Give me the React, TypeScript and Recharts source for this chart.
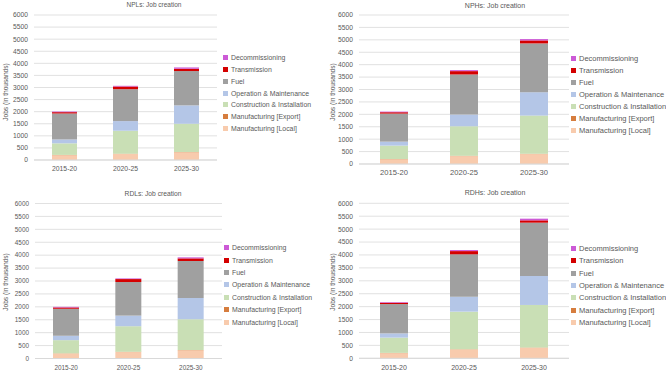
import React from "react";
import { BarChart, Bar, XAxis, YAxis, CartesianGrid, Legend } from "recharts";

const categories = ["2015-20", "2020-25", "2025-30"];
const yTicks = [0, 500, 1000, 1500, 2000, 2500, 3000, 3500, 4000, 4500, 5000, 5500, 6000];

// stacking order bottom -> top
const seriesKeys = ["local", "export", "construction", "om", "fuel", "transmission", "decommissioning"];
const seriesNames = [
  "Manufacturing [Local]",
  "Manufacturing [Export]",
  "Construction & Installation",
  "Operation & Maintenance",
  "Fuel",
  "Transmission",
  "Decommissioning",
];
const seriesColors = ["#F8CBAD", "#D67D3E", "#C9DFB5", "#B4C6E7", "#A0A0A0", "#D40000", "#CC5AD6"];

// NPLs
const nplsLocal = [200, 250, 320];
const nplsExport = [10, 10, 10];
const nplsConstruction = [480, 950, 1170];
const nplsOM = [160, 400, 760];
const nplsFuel = [1075, 1320, 1420];
const nplsTransmission = [55, 110, 95];
const nplsDecommissioning = [25, 30, 55];

// NPHs
const nphsLocal = [190, 320, 400];
const nphsExport = [10, 10, 10];
const nphsConstruction = [540, 1190, 1540];
const nphsOM = [160, 470, 940];
const nphsFuel = [1130, 1615, 1965];
const nphsTransmission = [55, 135, 120];
const nphsDecommissioning = [25, 40, 55];

// RDLs
const rdlsLocal = [190, 250, 320];
const rdlsExport = [10, 10, 10];
const rdlsConstruction = [510, 990, 1190];
const rdlsOM = [170, 410, 825];
const rdlsFuel = [1045, 1300, 1430];
const rdlsTransmission = [50, 115, 100];
const rdlsDecommissioning = [25, 25, 40];

// RDHs
const rdhsLocal = [200, 340, 410];
const rdhsExport = [10, 10, 10];
const rdhsConstruction = [590, 1455, 1645];
const rdhsOM = [165, 580, 1120];
const rdhsFuel = [1135, 1640, 2065];
const rdhsTransmission = [50, 125, 90];
const rdhsDecommissioning = [25, 40, 65];

const buildRows = (series: number[][]) =>
  categories.map((period, i) => {
    const row: Record<string, any> = { period };
    series.forEach((values, s) => {
      row[seriesKeys[s]] = values[i];
    });
    return row;
  });

const TEXT = "#595959";

// top of the stack first, like the Excel legend
const LegendList = ({ payload, fontSize, rowHeight }: any) => {
  const items = [...(payload || [])].sort(
    (a: any, b: any) => seriesNames.indexOf(b.value) - seriesNames.indexOf(a.value)
  );
  return (
    <div>
      {items.map((p: any) => (
        <div
          key={p.value}
          style={{ display: "flex", alignItems: "center", height: rowHeight, whiteSpace: "nowrap" }}
        >
          <span style={{ width: 5, height: 5, background: p.color, marginRight: 3, flex: "none" }} />
          <span style={{ fontSize, color: TEXT }}>{p.value}</span>
        </div>
      ))}
    </div>
  );
};

interface PanelProps {
  title: string;
  series: number[][];
  left: number;
  top: number;
  width: number;
  height: number;
  margin: { top: number; right: number; bottom: number; left: number };
  yAxisWidth: number;
  xAxisHeight: number;
  barSize: number;
  tickFont: number;
  catFont: number;
  catMargin: number;
  titleFont: number;
  titleX: number;
  titleY: number;
  yTitleX: number;
  yTitleY: number;
  legendX: number;
  legendY: number;
  legendRow: number;
  legendFont: number;
}

const Panel: React.FC<PanelProps> = (p) => {
  const rows = buildRows(p.series);
  return (
    <div style={{ position: "absolute", left: p.left, top: p.top, width: p.width, height: p.height }}>
      <div
        style={{
          position: "absolute",
          left: p.titleX - 60,
          top: p.titleY,
          width: 120,
          textAlign: "center",
          fontSize: p.titleFont,
          color: TEXT,
          lineHeight: 1,
          whiteSpace: "nowrap",
        }}
      >
        {p.title}
      </div>
      <div
        style={{
          position: "absolute",
          left: p.yTitleX - 40,
          top: p.yTitleY - 5,
          width: 80,
          height: 10,
          lineHeight: "10px",
          textAlign: "center",
          fontSize: 6.6,
          color: TEXT,
          whiteSpace: "nowrap",
          transform: "rotate(-90deg)",
        }}
      >
        Jobs (in thousands)
      </div>
      <BarChart width={p.width} height={p.height} data={rows} margin={p.margin} barSize={p.barSize}>
        <CartesianGrid vertical={false} stroke="#D9D9D9" strokeWidth={0.8} />
        <XAxis
          dataKey="period"
          height={p.xAxisHeight}
          tickLine={false}
          tickSize={0}
          tickMargin={p.catMargin}
          axisLine={{ stroke: "#D9D9D9" }}
          tick={{ fill: TEXT, fontSize: p.catFont }}
          interval={0}
        />
        <YAxis
          width={p.yAxisWidth}
          domain={[0, 6000]}
          ticks={yTicks}
          interval={0}
          axisLine={false}
          tickLine={false}
          tickSize={0}
          tickMargin={6}
          tick={{ fill: TEXT, fontSize: p.tickFont }}
        />
        <Legend
          layout="vertical"
          align="center"
          verticalAlign="middle"
          wrapperStyle={{ left: p.legendX, top: p.legendY - p.legendRow / 2, width: 130, height: "auto" }}
          content={(props: any) => (
            <LegendList payload={props.payload} fontSize={p.legendFont} rowHeight={p.legendRow} />
          )}
        />
        {seriesKeys.map((key, i) => (
          <Bar
            key={key}
            dataKey={key}
            name={seriesNames[i]}
            stackId="jobs"
            fill={seriesColors[i]}
            legendType="square"
            isAnimationActive={false}
          />
        ))}
      </BarChart>
    </div>
  );
};

export default function App() {
  return (
    <div
      style={{
        position: "absolute",
        left: 0,
        top: 0,
        width: 666,
        height: 371,
        background: "#fff",
        fontFamily: "'Liberation Sans', Arial, sans-serif",
      }}
    >
      <Panel
        title="NPLs: Job creation"
        series={[nplsLocal, nplsExport, nplsConstruction, nplsOM, nplsFuel, nplsTransmission, nplsDecommissioning]}
        left={0}
        top={0}
        width={333}
        height={185}
        margin={{ top: 15, right: 116, bottom: 5, left: 0 }}
        yAxisWidth={34}
        xAxisHeight={20}
        barSize={25}
        tickFont={6.7}
        catFont={6.8}
        catMargin={6}
        titleFont={6.5}
        titleX={154}
        titleY={2}
        yTitleX={6}
        yTitleY={92}
        legendX={223}
        legendY={58}
        legendRow={11.7}
        legendFont={6.9}
      />
      <Panel
        title="NPHs: Job creation"
        series={[nphsLocal, nphsExport, nphsConstruction, nphsOM, nphsFuel, nphsTransmission, nphsDecommissioning]}
        left={326}
        top={0}
        width={340}
        height={185}
        margin={{ top: 15, right: 97, bottom: 5, left: 0 }}
        yAxisWidth={33}
        xAxisHeight={16}
        barSize={28}
        tickFont={6.7}
        catFont={7.6}
        catMargin={6}
        titleFont={7}
        titleX={169}
        titleY={2}
        yTitleX={7}
        yTitleY={92}
        legendX={245}
        legendY={58}
        legendRow={12}
        legendFont={7.5}
      />
      <Panel
        title="RDLs: Job creation"
        series={[rdlsLocal, rdlsExport, rdlsConstruction, rdlsOM, rdlsFuel, rdlsTransmission, rdlsDecommissioning]}
        left={0}
        top={185}
        width={333}
        height={186}
        margin={{ top: 18.5, right: 111, bottom: 4, left: 0 }}
        yAxisWidth={35}
        xAxisHeight={8.5}
        barSize={26}
        tickFont={6.4}
        catFont={6.4}
        catMargin={7}
        titleFont={6.7}
        titleX={153}
        titleY={6}
        yTitleX={6}
        yTitleY={97}
        legendX={224}
        legendY={62.7}
        legendRow={12.4}
        legendFont={6.9}
      />
      <Panel
        title="RDHs: Job creation"
        series={[rdhsLocal, rdhsExport, rdhsConstruction, rdhsOM, rdhsFuel, rdhsTransmission, rdhsDecommissioning]}
        left={326}
        top={185}
        width={340}
        height={186}
        margin={{ top: 18.3, right: 97, bottom: 4, left: 0 }}
        yAxisWidth={33}
        xAxisHeight={8.7}
        barSize={28}
        tickFont={6.7}
        catFont={7}
        catMargin={7}
        titleFont={7}
        titleX={169}
        titleY={4}
        yTitleX={7}
        yTitleY={97}
        legendX={245}
        legendY={63.3}
        legendRow={12.4}
        legendFont={7.5}
      />
    </div>
  );
}
